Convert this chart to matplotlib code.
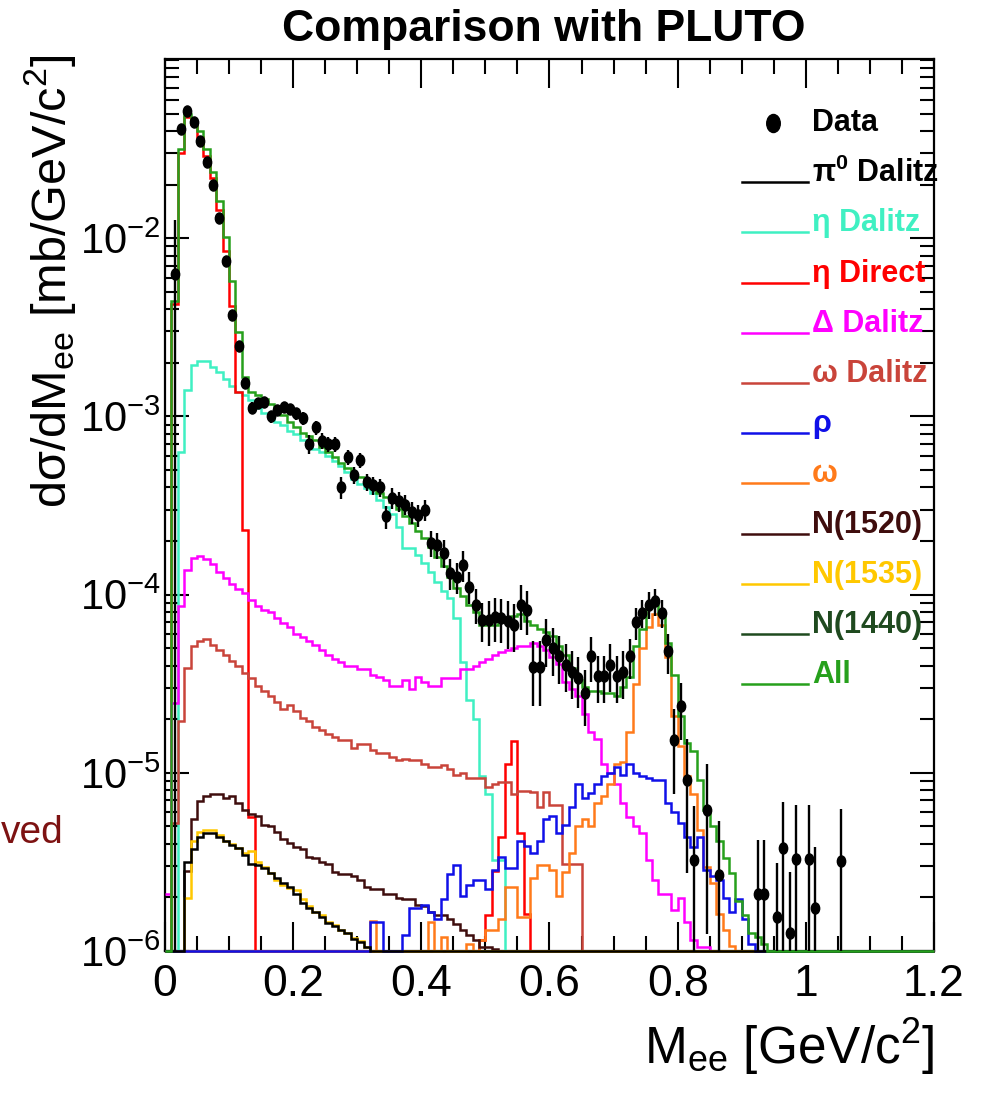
import numpy as np
import matplotlib
matplotlib.use("Agg")
import matplotlib.pyplot as plt
from matplotlib.path import Path
from matplotlib.transforms import Affine2D

# Helvetica-like sans as in ROOT
plt.rcParams['font.family'] = ['Liberation Sans', 'DejaVu Sans']

# 120 bins of 10 MeV/c^2 between 0 and 1.2 GeV/c^2
edges = np.linspace(0.0, 1.2, 121)
centers = 0.5 * (edges[:-1] + edges[1:])

# histogram contents as log10(dsigma/dM), None = empty bin
all_log = [
    None, -2.354, -1.50, -1.303, -1.343, -1.399, -1.50, -1.629, -1.792, -1.994,   # 0
    -2.242, -2.528, -2.781, -2.86, -2.88, -2.90, -2.93, -2.96, -2.99, -3.03,      # 10
    -3.06, -3.09, -3.11, -3.13, -3.17, -3.20, -3.23, -3.26, -3.29, -3.32,         # 20
    -3.34, -3.37, -3.40, -3.43, -3.45, -3.48, -3.52, -3.56, -3.60, -3.64,         # 30
    -3.68, -3.73, -3.79, -3.84, -3.90, -3.96, -4.01, -4.06, -4.10, -4.17,         # 40
    -4.17, -4.17, -4.14, -4.14, -4.12, -4.11, -4.15, -4.17, -4.19, -4.21,         # 50
    -4.23, -4.29, -4.34, -4.41, -4.48, -4.52, -4.54, -4.54, -4.55, -4.55,         # 60
    -4.57, -4.52, -4.46, -4.29, -4.19, -4.07, -4.06, -4.11, -4.27, -4.45,         # 70
    -4.68, -4.83, -4.88, -5.04, -5.21, -5.30, -5.38, -5.48, -5.56, -5.72,         # 80
    -5.80, -5.90, -5.92, -5.96]                                                   # 90

eta_dalitz_log = [
    None, None, -3.20, -2.85, -2.71, -2.69, -2.69, -2.72, -2.75, -2.79,
    -2.83, -2.86, -2.88, -2.91, -2.95, -2.98, -3.00, -3.03, -3.05, -3.08,
    -3.10, -3.13, -3.15, -3.18, -3.20, -3.22, -3.25, -3.28, -3.31, -3.35,
    -3.38, -3.40, -3.43, -3.47, -3.51, -3.55, -3.62, -3.74, -3.74, -3.78,
    -3.82, -3.87, -3.93, -3.98, -4.02, -4.13, -4.38, -4.59, -4.70, -5.02,
    -5.12, -5.49, -5.49]

eta_direct_log = [
    None, -2.37, -1.52, -1.32, -1.36, -1.43, -1.54, -1.66, -1.84, -2.07,
    -2.38, -2.86, -3.635, -5.25, None, None, None, None, None, None,
    None, None, None, None, None, None, None, None, None, None,
    None, None, None, None, None, None, None, None, None, None,
    None, None, None, None, None, None, None, None, None, -5.94,
    -5.80, -5.55, -5.36, -4.95, -4.82, -5.34, -5.79]

delta_dalitz_log = [
    -5.68, -4.61, -4.066, -3.86, -3.794, -3.785, -3.80, -3.83, -3.87, -3.906,
    -3.94, -3.97, -3.99, -4.03, -4.066, -4.085, -4.10, -4.13, -4.16, -4.18,
    -4.22, -4.235, -4.26, -4.28, -4.31, -4.337, -4.36, -4.38, -4.40, -4.40,
    -4.42, -4.42, -4.45, -4.46, -4.48, -4.51, -4.51, -4.48, -4.53, -4.46,
    -4.49, -4.51, -4.51, -4.47, -4.47, -4.47, -4.42, -4.42, -4.40, -4.38,
    -4.36, -4.34, -4.32, -4.31, -4.30, -4.29, -4.29, -4.27, -4.29, -4.31,
    -4.35, -4.39, -4.49, -4.53, -4.57, -4.67, -4.77, -4.81, -4.95, -5.00,
    -5.06, -5.17, -5.25, -5.30, -5.34, -5.49, -5.60, -5.68, -5.68, -5.77,
    -5.70, -5.84, -5.94, -5.98, -5.98]

omega_dalitz_log = [
    None, -5.28, -4.71, -4.41, -4.29, -4.26, -4.25, -4.28, -4.31, -4.34,
    -4.375, -4.40, -4.44, -4.47, -4.51, -4.54, -4.57, -4.60, -4.64, -4.62,
    -4.655, -4.69, -4.71, -4.74, -4.76, -4.78, -4.80, -4.815, -4.815, -4.86,
    -4.84, -4.84, -4.87, -4.89, -4.89, -4.91, -4.93, -4.92, -4.93, -4.93,
    -4.95, -4.97, -4.97, -4.955, -4.98, -5.01, -5.00, -5.03, -5.03, -5.03,
    -5.08, -5.06, -5.05, -5.05, -5.12, -5.10, -5.10, -5.105, -5.19, -5.11,
    -5.18, -5.18, -5.51, -5.51, -5.51]

rho_log = [None] * 32 + [
    -5.84, -5.84, None, None, None, -5.91, -5.76, -5.76,                          # 32
    -5.74, -5.78, -5.82, -5.71, -5.57, -5.52, -5.69, -5.63, -5.60, -5.60,         # 40
    -5.65, -5.545, -5.47, -5.535, -5.535, -5.385, -5.41, -5.45, -5.385, -5.26,    # 50
    -5.245, -5.34, -5.29, -5.19, -5.06, -5.14, -5.115, -5.06, -5.02, -5.00,       # 60
    -4.97, -5.01, -4.95, -5.00, -5.02, -5.03, -5.04, -5.04, -5.17, -5.22,         # 70
    -5.28, -5.36, -5.415, -5.36, -5.545, -5.58, -5.60, -5.70, -5.78, -5.71,       # 80
    -5.82, -5.96]                                                                 # 90

omega_log = [None] * 32 + [
    -5.83, None, None, None, None, None, None, None,                              # 32
    None, -5.84, None, -5.92, None, None, None, -5.96, None, -5.94,               # 40
    -5.88, -5.88, -5.82, -5.64, -5.64, -5.81, -5.81, -5.59, -5.52, -5.52,         # 50
    -5.545, -5.69, -5.555, -5.45, -5.30, -5.26, -5.30, -5.17, -5.13, -5.06,       # 60
    -4.95, -4.94, -4.77, -4.50, -4.30, -4.18, -4.11, -4.17, -4.35, -4.68,         # 70
    -4.85, -5.02, -5.12, -5.32, -5.53, -5.62, -5.79, -5.88, -5.97]                # 80

n1520_log = [
    None, None, None, -5.55, -5.26, -5.16, -5.13, -5.12, -5.12, -5.14,
    -5.13, -5.17, -5.21, -5.23, -5.245, -5.29, -5.30, -5.33, -5.37, -5.395,
    -5.415, -5.43, -5.47, -5.48, -5.50, -5.51, -5.555, -5.57, -5.57, -5.58,
    -5.60, -5.64, -5.65, -5.65, -5.68, -5.68, -5.70, -5.71, -5.71, -5.74,
    -5.75, -5.78, -5.80, -5.80, -5.82, -5.85, -5.88, -5.91, -5.94, -5.98,
    -5.98, -5.99]

n1535_log = [
    None, None, None, -5.70, -5.38, -5.33, -5.32, -5.32, -5.35, -5.38,
    -5.40, -5.42, -5.45, -5.44, -5.50, -5.53, -5.56, -5.60, -5.63, -5.645,
    -5.66, -5.71, -5.75, -5.78, -5.80, -5.835, -5.855, -5.88, -5.90, -5.925,
    -5.945, -5.98]

pi0_dalitz_log = [
    None, None, None, -5.50, -5.43, -5.36, -5.34, -5.34, -5.36, -5.385,
    -5.405, -5.42, -5.46, -5.51, -5.52, -5.535, -5.56, -5.59, -5.62, -5.64,
    -5.68, -5.73, -5.76, -5.78, -5.81, -5.845, -5.86, -5.88, -5.90, -5.93,
    -5.95, -5.976]

n1440_log = []  # lies below the plotted range everywhere

# measured points (mb/GeV/c^2) and relative errors, per bin
data_val = [
    None, 6.3e-3, 4.1e-2, 5.2e-2, 4.5e-2, 3.5e-2, 2.67e-2, 2.0e-2, 1.3e-2, 7.5e-3, 3.7e-3, 2.5e-3, 1.55e-3,
    1.12e-3, 1.19e-3, 1.2e-3, 1.0e-3, 1.09e-3, 1.13e-3, 1.1e-3, 1.04e-3, 9.8e-4, 7.0e-4, 8.7e-4,
    7.3e-4, 7.0e-4, 7.0e-4, 4.0e-4, 5.9e-4, 4.7e-4, 5.7e-4, 4.3e-4, 4.1e-4, 4.0e-4, 2.75e-4,
    3.5e-4, 3.35e-4, 3.2e-4, 2.9e-4, 2.8e-4, 3.0e-4, 1.95e-4, 1.9e-4, 1.72e-4, 1.32e-4, 1.26e-4, 1.47e-4, 1.11e-4, 8.8e-5, 7.2e-5,
    7.2e-5, 7.5e-5, 7.4e-5, 7.1e-5, 6.8e-5, 8.8e-5, 8.2e-5, 3.95e-5, 3.95e-5, 5.6e-5, 5.0e-5,
    4.5e-5, 4.05e-5, 3.7e-5, 3.4e-5, 2.8e-5, 4.5e-5, 3.5e-5, 3.5e-5, 4.05e-5, 3.5e-5, 3.7e-5, 4.5e-5,
    7.0e-5, 7.9e-5, 8.8e-5, 9.2e-5, 7.9e-5, 4.8e-5, 1.53e-5, 2.36e-5,
    9.1e-6, 3.25e-6, None, 6.2e-6, None, 2.67e-6, None, None, None, None, None,
    2.1e-6, 2.1e-6, None, 1.56e-6, 3.8e-6, 1.26e-6, 3.3e-6, None, 3.3e-6, 1.74e-6, None, None, None, 3.2e-6]

data_err = [
    None, 1.0, 0.04, 0.04, 0.04, 0.04, 0.04, 0.04, 0.04, 0.05, 0.05, 0.06, 0.06,
    0.07, 0.07, 0.07, 0.08, 0.07, 0.07, 0.07, 0.08, 0.08, 0.12, 0.09,
    0.1, 0.1, 0.1, 0.14, 0.1, 0.11, 0.1, 0.11, 0.12, 0.12, 0.15,
    0.13, 0.13, 0.13, 0.14, 0.14, 0.14, 0.17, 0.17, 0.18, 0.2, 0.2, 0.2, 0.2, 0.22, 0.25,
    0.28, 0.28, 0.28, 0.3, 0.3, 0.28, 0.28, 0.4, 0.4, 0.3, 0.3,
    0.3, 0.3, 0.3, 0.32, 0.35, 0.28, 0.3, 0.3, 0.3, 0.3, 0.3, 0.25,
    0.2, 0.18, 0.17, 0.17, 0.18, 0.25, 0.5, 0.35,
    0.7, 1.0, None, 0.8, None, 1.0, None, None, None, None, None,
    1.0, 1.0, None, 1.0, 0.8, 1.2, 1.0, None, 1.0, 1.2, None, None, None, 0.95]

PI0 = r"π$^{\mathdefault{0}}$ Dalitz"

# draw order matters: the last empty histogram is what shows along the bottom
components = [
    ("N(1440)", n1440_log, "#1f4a1f"),
    ("η Dalitz", eta_dalitz_log, "#3ff0c2"),
    ("η Direct", eta_direct_log, "#ff0000"),
    ("Δ Dalitz", delta_dalitz_log, "#ff00ff"),
    ("ω Dalitz", omega_dalitz_log, "#c9443a"),
    ("ω", omega_log, "#ff7a1a"),
    ("N(1520)", n1520_log, "#3f0d0d"),
    ("N(1535)", n1535_log, "#ffc800"),
    ("ρ", rho_log, "#1010e8"),
    (PI0, pi0_dalitz_log, "#000000"),
    ("All", all_log, "#26a01c"),
]

legend_order = ["Data", PI0, "η Dalitz", "η Direct", "Δ Dalitz",
                "ω Dalitz", "ρ", "ω", "N(1520)", "N(1535)", "N(1440)", "All"]

YMIN, YMAX = 1e-6, 0.1015


def to_hist(logs):
    vals = np.zeros(len(centers))
    for i, v in enumerate(logs):
        if v is not None:
            vals[i] = 10.0 ** v
    return np.clip(vals, YMIN, None)   # empty bins sit on the frame, as in ROOT


fig = plt.figure(figsize=(9.83, 10.94), dpi=100)
ax = fig.add_axes([0.16785, 0.13071, 0.78230, 0.81536])
ax.set_yscale('log')
ax.set_xlim(0, 1.2)
ax.set_ylim(YMIN, YMAX)

colors = {}
for name, logs, col in components:
    colors[name] = col
    ax.stairs(to_hist(logs), edges, baseline=None, color=col, lw=1.8,
              zorder=3, clip_on=False)

# data points with error bars
ell = Path.unit_circle().transformed(Affine2D().scale(0.75, 1.0))
px, py, lo, hi = [], [], [], []
for c, v, r in zip(centers, data_val, data_err):
    if v is None:
        continue
    e = v * r
    px.append(c)
    py.append(v)
    lo.append(min(e, v * 0.9999))
    hi.append(e)
ax.errorbar(px, py, yerr=[lo, hi], fmt='none', ecolor='black', elinewidth=1.7, zorder=4)
ax.plot(px, py, ls='none', marker=ell, ms=8, color='black', zorder=5)

# ROOT-like frame and ticks
xtick_vals = [0, 0.2, 0.4, 0.6, 0.8, 1.0, 1.2]
xtick_labels = ['0', '0.2', '0.4', '0.6', '0.8', '1', '1.2']
ax.set_xticks(xtick_vals)
ax.set_xticklabels(xtick_labels)
ax.set_xticks(np.arange(0, 1.2001, 0.05), minor=True)
ytick_vals = [1e-6, 1e-5, 1e-4, 1e-3, 1e-2]
ytick_labels = [r'$\mathdefault{10^{-6}}$', r'$\mathdefault{10^{-5}}$', r'$\mathdefault{10^{-4}}$',
                r'$\mathdefault{10^{-3}}$', r'$\mathdefault{10^{-2}}$']
ax.set_yticks(ytick_vals)
ax.set_yticklabels(ytick_labels)
ax.set_yticks([k * 10.0 ** n for n in range(-6, -1) for k in range(2, 10)] + [0.1], minor=True)
ax.yaxis.set_minor_formatter(plt.NullFormatter())

ax.tick_params(which='both', direction='in', top=True, right=True, width=1.5, colors='black')
ax.tick_params(axis='x', which='major', length=21, pad=9, labelsize=32)
ax.tick_params(axis='x', which='minor', length=11)
ax.tick_params(axis='y', which='major', length=17, pad=3, labelsize=30)
ax.tick_params(axis='y', which='minor', length=10)
for s in ax.spines.values():
    s.set_linewidth(1.6)

# legend, drawn by hand so the rows are evenly spaced like the original
row0, step = 123, 50.2
for i, name in enumerate(legend_order):
    yc = (951 - (row0 + step * i)) / 892.0
    yl = (951 - (row0 + step * i + 9)) / 892.0
    if name == "Data":
        ax.plot([0.7906], [yc], transform=ax.transAxes, ls='none', marker=ell, ms=13,
                color='black', clip_on=False, zorder=6)
        col = 'black'
    else:
        col = colors[name]
        ax.plot([0.7503, 0.8361], [yl, yl], transform=ax.transAxes, color=col, lw=1.8,
                clip_on=False, zorder=6)
    ax.text(0.8414, yc, name, transform=ax.transAxes, color=col, fontsize=22,
            fontweight='bold', ha='left', va='center', zorder=6)

fig.text(0.553, 0.9726, 'Comparison with PLUTO', ha='center', va='center',
         fontsize=32, fontweight='bold')
fig.text(0.951, 0.043, r'M$_{\mathdefault{ee}}$ [GeV/c$^{\mathdefault{2}}$]',
         ha='right', va='center', fontsize=37)
fig.text(0.052, 0.95, r'd$\mathdefault{\sigma}$/dM$_{\mathdefault{ee}}$ [mb/GeV/c$^{\mathdefault{2}}$]',
         rotation=90, ha='center', va='top', fontsize=35)
fig.text(0.065, 0.229, 'ved', ha='right', va='baseline', fontsize=28,
         color='#7d1212')

fig.savefig('out.png', dpi=100)
